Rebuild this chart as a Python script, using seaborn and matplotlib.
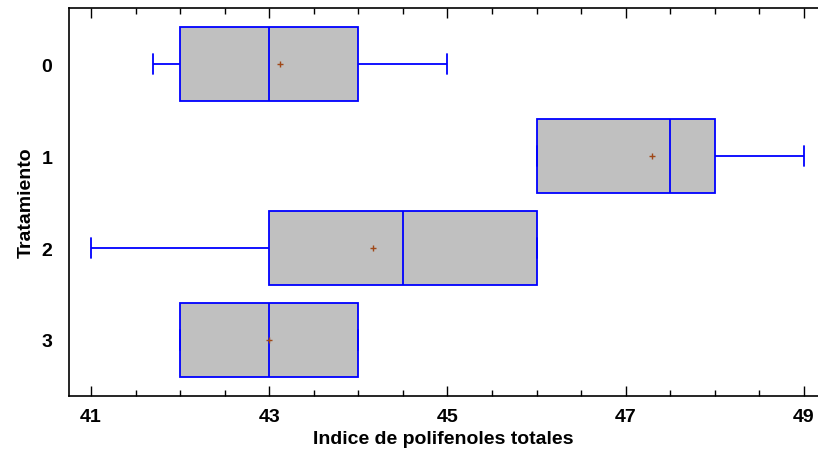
import numpy as np
import pandas as pd
import matplotlib
matplotlib.use("Agg")
import matplotlib.pyplot as plt
import seaborn as sns

# data
tratamientos = ["0", "1", "2", "3"]
trat_0 = [41.7, 42, 42, 44, 44, 45]
trat_1 = [46, 46, 47.5, 48, 49]
trat_2 = [41, 43, 43, 46, 46, 46]
trat_3 = [42, 42, 43, 44, 44]
x_ticks = [41, 43, 45, 47, 49]

valores = [trat_0, trat_1, trat_2, trat_3]
df = pd.DataFrame({
    "tratamiento": np.repeat(tratamientos, [len(v) for v in valores]),
    "valor": np.concatenate(valores),
})

sns.set_style("white")
plt.rcParams["font.family"] = ["Liberation Sans", "DejaVu Sans"]
plt.rcParams["font.weight"] = "bold"
plt.rcParams["text.color"] = "black"
plt.rcParams["axes.labelcolor"] = "black"
plt.rcParams["xtick.color"] = "black"
plt.rcParams["ytick.color"] = "black"

fig = plt.figure(figsize=(8.18, 4.6), dpi=100)
ax = fig.add_axes([0.0843, 0.137, 0.9157, 0.843])

sns.boxplot(data=df, x="valor", y="tratamiento", order=tratamientos, orient="h",
            whis=(0, 100), width=0.8, color="#c0c0c0", saturation=1,
            linecolor="#0000ff", linewidth=1.3, showmeans=True,
            meanprops=dict(marker="+", markeredgecolor="#a04818", markersize=5,
                           markeredgewidth=1),
            capwidths=0.22, ax=ax)

ax.set_xlim(40.753, 49.157)
ax.set_ylim(3.61, -0.61)
ax.set_xticks(x_ticks)
ax.set_xticks(np.arange(41, 49.01, 0.5), minor=True)
ax.tick_params(axis="x", which="both", direction="in", top=True, bottom=True,
               width=1, labelsize=14, pad=9)
ax.tick_params(axis="x", which="major", length=7)
ax.tick_params(axis="x", which="minor", length=4)
ax.tick_params(axis="y", length=0, labelsize=14, pad=12)

for s in ax.spines.values():
    s.set_color("black")
    s.set_linewidth(1.2)
ax.spines["right"].set_visible(False)

ax.set_xlabel("Indice de polifenoles totales", fontsize=14, fontweight="bold", labelpad=3)
ax.set_ylabel("Tratamiento", fontsize=14, fontweight="bold", labelpad=5)

fig.savefig("out.png", dpi=100)
